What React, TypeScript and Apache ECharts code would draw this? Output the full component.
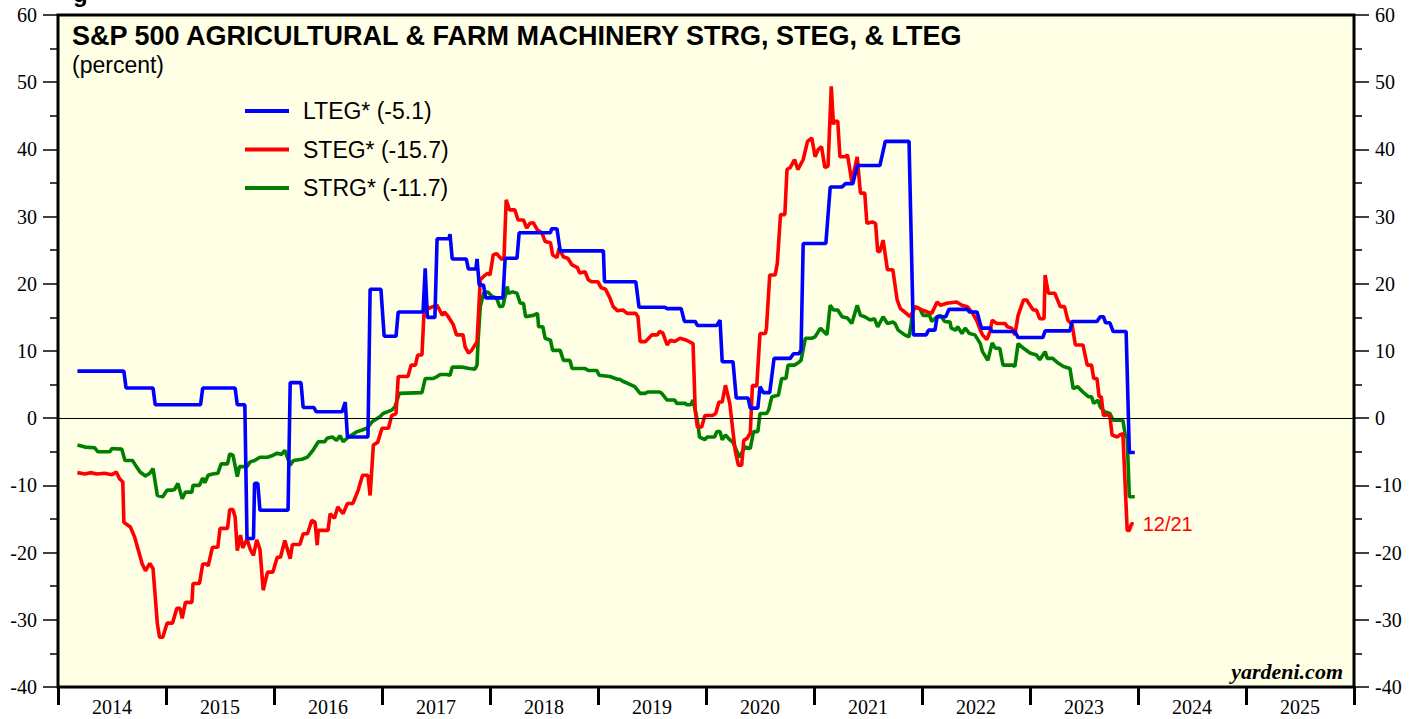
import React, { useEffect, useRef } from "react";
import * as echarts from "echarts";

const years = ["2014", "2015", "2016", "2017", "2018", "2019", "2020", "2021", "2022", "2023", "2024", "2025"];

// LTEG* (blue): [decimal year, percent]
const lteg: [number, number][] = [
  [2014.18, 7.0], [2014.61, 7.0], [2014.63, 4.5], [2014.88, 4.5], [2014.90, 2.0], [2015.32, 2.0], [2015.34, 4.5],
  [2015.64, 4.5], [2015.66, 2.0], [2015.73, 2.0], [2015.75, -17.9], [2015.81, -17.9], [2015.82, -9.7], [2015.85, -9.7],
  [2015.87, -13.7], [2016.13, -13.7], [2016.15, 5.3], [2016.25, 5.3], [2016.27, 1.6], [2016.37, 1.6], [2016.39, 0.95],
  [2016.63, 0.95], [2016.66, 2.4], [2016.68, -2.8], [2016.87, -2.8], [2016.89, 19.2], [2016.99, 19.2], [2017.02, 12.2],
  [2017.13, 12.2], [2017.15, 15.8], [2017.38, 15.8], [2017.40, 22.3], [2017.42, 15.0], [2017.49, 15.0], [2017.51, 26.7],
  [2017.62, 26.7], [2017.63, 27.4], [2017.65, 23.7], [2017.78, 23.7], [2017.80, 22.2], [2017.87, 22.2], [2017.88, 23.7],
  [2017.90, 19.8], [2017.94, 19.8], [2017.96, 17.9], [2018.12, 17.9], [2018.14, 23.8], [2018.25, 23.8], [2018.27, 27.6],
  [2018.56, 27.6], [2018.57, 28.2], [2018.62, 28.2], [2018.65, 24.9], [2019.05, 24.9], [2019.06, 20.3], [2019.35, 20.3],
  [2019.38, 16.5], [2019.62, 16.5], [2019.64, 16.3], [2019.77, 16.3], [2019.80, 14.4], [2019.90, 14.4], [2019.92, 13.8],
  [2020.10, 13.8], [2020.13, 14.6], [2020.15, 8.4], [2020.25, 8.4], [2020.28, 3.0], [2020.39, 3.0], [2020.41, 1.5],
  [2020.48, 1.5], [2020.50, 4.7], [2020.53, 3.8], [2020.59, 3.8], [2020.63, 8.9], [2020.78, 8.9], [2020.81, 9.6],
  [2020.86, 9.6], [2020.88, 10.1], [2020.90, 26.0], [2021.11, 26.0], [2021.15, 34.4], [2021.26, 34.4], [2021.29, 34.9],
  [2021.36, 34.9], [2021.40, 37.6], [2021.61, 37.6], [2021.66, 41.2], [2021.88, 41.2], [2021.92, 12.4], [2022.04, 12.4],
  [2022.06, 13.1], [2022.12, 13.1], [2022.14, 15.1], [2022.22, 15.1], [2022.25, 16.2], [2022.42, 16.2], [2022.44, 15.8],
  [2022.51, 15.8], [2022.55, 13.4], [2022.63, 13.4], [2022.65, 12.9], [2022.86, 12.9], [2022.89, 12.0], [2023.12, 12.0],
  [2023.14, 13.0], [2023.37, 13.0], [2023.39, 14.4], [2023.62, 14.4], [2023.65, 15.1], [2023.68, 15.1], [2023.70, 14.2],
  [2023.74, 14.2], [2023.77, 12.9], [2023.89, 12.9], [2023.92, -5.1], [2023.97, -5.1],
];

// STEG* (red)
const steg: [number, number][] = [
  [2014.18, -8.1], [2014.25, -8.3], [2014.30, -8.1], [2014.36, -8.3], [2014.43, -8.2], [2014.50, -8.4], [2014.54, -8.0],
  [2014.57, -9.0], [2014.60, -9.5], [2014.61, -15.5], [2014.67, -16.2], [2014.71, -17.7], [2014.78, -21.7], [2014.81, -22.7],
  [2014.85, -21.6], [2014.88, -22.4], [2014.92, -30.6], [2014.94, -32.6], [2014.97, -32.6], [2015.01, -30.5], [2015.06, -30.5],
  [2015.10, -28.3], [2015.13, -28.3], [2015.15, -29.8], [2015.18, -27.4], [2015.24, -27.4], [2015.25, -24.6], [2015.31, -24.6],
  [2015.34, -21.7], [2015.38, -21.7], [2015.39, -22.0], [2015.43, -19.2], [2015.48, -19.2], [2015.50, -16.4], [2015.57, -16.4],
  [2015.59, -13.6], [2015.62, -13.6], [2015.64, -14.7], [2015.66, -19.7], [2015.69, -17.4], [2015.71, -19.3], [2015.75, -18.0],
  [2015.78, -19.5], [2015.81, -20.4], [2015.84, -18.1], [2015.87, -19.5], [2015.90, -25.6], [2015.94, -22.9], [2015.99, -22.9],
  [2016.03, -20.7], [2016.06, -20.7], [2016.10, -18.2], [2016.15, -20.9], [2016.17, -18.8], [2016.24, -18.8], [2016.27, -17.2],
  [2016.31, -17.2], [2016.35, -15.2], [2016.38, -15.5], [2016.40, -18.9], [2016.41, -16.7], [2016.50, -16.7], [2016.52, -14.2],
  [2016.56, -14.9], [2016.59, -13.2], [2016.64, -14.2], [2016.68, -12.7], [2016.73, -12.7], [2016.78, -10.7], [2016.82, -8.5],
  [2016.87, -8.5], [2016.89, -11.5], [2016.92, -4.0], [2016.96, -3.6], [2017.00, -1.5], [2017.06, -1.5], [2017.09, 0.4],
  [2017.13, 0.7], [2017.15, 6.2], [2017.24, 6.2], [2017.27, 7.9], [2017.31, 7.9], [2017.33, 9.4], [2017.37, 9.4],
  [2017.39, 16.1], [2017.41, 16.8], [2017.43, 16.3], [2017.47, 16.6], [2017.51, 16.8], [2017.56, 15.3], [2017.58, 15.8],
  [2017.61, 15.2], [2017.66, 13.9], [2017.69, 12.4], [2017.75, 12.4], [2017.77, 10.6], [2017.80, 9.7], [2017.83, 10.1],
  [2017.88, 11.4], [2017.91, 20.6], [2017.94, 21.1], [2017.98, 21.6], [2018.00, 21.3], [2018.03, 24.3], [2018.06, 24.5],
  [2018.11, 23.6], [2018.13, 24.0], [2018.15, 32.5], [2018.18, 31.0], [2018.23, 31.0], [2018.26, 29.5], [2018.31, 29.5],
  [2018.34, 28.3], [2018.37, 29.0], [2018.40, 29.1], [2018.44, 28.0], [2018.48, 27.6], [2018.51, 26.3], [2018.56, 26.1],
  [2018.58, 24.3], [2018.62, 23.9], [2018.64, 25.3], [2018.68, 24.0], [2018.72, 23.8], [2018.76, 22.8], [2018.81, 22.4],
  [2018.83, 21.6], [2018.88, 21.8], [2018.91, 20.6], [2018.94, 20.3], [2019.00, 20.3], [2019.03, 19.4], [2019.07, 19.2],
  [2019.11, 17.9], [2019.14, 16.6], [2019.18, 16.0], [2019.23, 16.1], [2019.27, 15.6], [2019.35, 15.6], [2019.37, 15.1],
  [2019.39, 11.4], [2019.44, 11.4], [2019.50, 12.4], [2019.55, 12.4], [2019.57, 12.9], [2019.60, 12.7], [2019.64, 10.9],
  [2019.67, 11.6], [2019.71, 11.4], [2019.76, 11.9], [2019.82, 11.6], [2019.88, 11.1], [2019.90, 1.2], [2019.92, -1.3],
  [2019.96, -1.3], [2019.99, 0.4], [2020.06, 0.4], [2020.09, 0.7], [2020.12, 2.4], [2020.15, 2.4], [2020.18, 4.9],
  [2020.22, 2.2], [2020.27, -4.8], [2020.30, -7.0], [2020.33, -7.0], [2020.35, -3.3], [2020.38, -3.0], [2020.41, -2.2],
  [2020.43, 4.9], [2020.47, 4.8], [2020.50, 12.6], [2020.55, 12.6], [2020.56, 13.4], [2020.59, 21.3], [2020.64, 21.3],
  [2020.66, 23.0], [2020.69, 30.3], [2020.73, 30.3], [2020.75, 37.0], [2020.78, 37.3], [2020.82, 38.5], [2020.85, 37.0],
  [2020.90, 38.5], [2020.94, 41.2], [2020.98, 41.7], [2021.01, 38.9], [2021.04, 40.0], [2021.07, 40.4], [2021.10, 37.3],
  [2021.13, 37.5], [2021.16, 49.4], [2021.18, 43.7], [2021.19, 44.2], [2021.22, 44.2], [2021.24, 38.9], [2021.29, 38.9],
  [2021.31, 39.2], [2021.35, 35.2], [2021.40, 38.9], [2021.43, 33.5], [2021.47, 33.5], [2021.49, 29.0], [2021.54, 29.2],
  [2021.57, 29.0], [2021.59, 24.8], [2021.61, 24.8], [2021.64, 26.5], [2021.68, 22.1], [2021.73, 22.1], [2021.77, 17.6],
  [2021.80, 16.3], [2021.84, 15.8], [2021.89, 15.1], [2021.94, 16.6], [2022.00, 16.1], [2022.05, 15.8], [2022.09, 15.6],
  [2022.14, 17.3], [2022.17, 16.8], [2022.23, 17.1], [2022.32, 17.3], [2022.37, 16.8], [2022.42, 16.6], [2022.47, 15.6],
  [2022.51, 14.4], [2022.54, 13.1], [2022.56, 12.4], [2022.60, 11.7], [2022.63, 12.9], [2022.65, 14.6], [2022.69, 14.1],
  [2022.77, 14.1], [2022.79, 13.6], [2022.83, 13.4], [2022.86, 12.4], [2022.89, 15.3], [2022.94, 17.6], [2022.97, 17.6],
  [2022.98, 17.3], [2023.03, 16.1], [2023.06, 16.1], [2023.09, 14.8], [2023.13, 14.8], [2023.14, 21.3], [2023.17, 18.6],
  [2023.23, 18.6], [2023.28, 16.6], [2023.32, 16.6], [2023.35, 14.6], [2023.39, 13.9], [2023.42, 10.9], [2023.49, 10.9],
  [2023.53, 7.9], [2023.57, 7.9], [2023.59, 5.9], [2023.62, 5.9], [2023.64, 3.2], [2023.66, 3.2], [2023.68, 0.4],
  [2023.72, 0.5], [2023.74, 0.3], [2023.76, -2.5], [2023.81, -2.8], [2023.83, -2.5], [2023.86, -2.3], [2023.90, -16.7],
  [2023.92, -16.7], [2023.94, -15.7], [2023.96, -15.7],
];

// STRG* (green)
const strg: [number, number][] = [
  [2014.18, -4.0], [2014.25, -4.3], [2014.34, -4.4], [2014.37, -5.0], [2014.48, -5.0], [2014.50, -4.5], [2014.59, -4.6],
  [2014.62, -6.3], [2014.69, -6.3], [2014.71, -6.8], [2014.76, -8.0], [2014.81, -8.6], [2014.85, -8.2], [2014.88, -7.5],
  [2014.92, -11.5], [2014.97, -11.7], [2015.01, -10.7], [2015.06, -10.7], [2015.08, -10.6], [2015.11, -9.7], [2015.15, -12.0],
  [2015.18, -11.0], [2015.24, -11.0], [2015.25, -10.0], [2015.31, -10.0], [2015.34, -8.9], [2015.36, -9.6], [2015.39, -8.5],
  [2015.43, -8.3], [2015.48, -8.2], [2015.51, -6.8], [2015.57, -6.8], [2015.59, -5.3], [2015.62, -5.5], [2015.66, -8.7],
  [2015.68, -7.2], [2015.75, -7.2], [2015.78, -6.5], [2015.82, -6.3], [2015.87, -5.8], [2015.94, -5.8], [2015.98, -5.6],
  [2016.03, -5.2], [2016.07, -5.4], [2016.10, -4.8], [2016.15, -7.0], [2016.18, -6.3], [2016.26, -6.1], [2016.31, -5.8],
  [2016.36, -4.8], [2016.41, -3.5], [2016.47, -3.5], [2016.49, -3.0], [2016.54, -2.8], [2016.58, -3.3], [2016.61, -2.6],
  [2016.64, -3.5], [2016.69, -2.8], [2016.77, -2.0], [2016.81, -1.8], [2016.86, -1.5], [2016.91, -0.5], [2016.98, 0.2],
  [2017.01, 0.7], [2017.09, 1.2], [2017.12, 1.7], [2017.16, 3.7], [2017.37, 3.8], [2017.40, 5.9], [2017.47, 5.9],
  [2017.51, 6.2], [2017.54, 6.5], [2017.60, 6.5], [2017.63, 6.4], [2017.65, 7.6], [2017.74, 7.6], [2017.81, 7.4],
  [2017.86, 7.3], [2017.88, 7.9], [2017.89, 11.6], [2017.91, 16.6], [2017.94, 18.6], [2017.98, 18.8], [2018.02, 18.1],
  [2018.06, 17.9], [2018.09, 16.6], [2018.12, 16.7], [2018.16, 19.6], [2018.17, 18.6], [2018.21, 18.8], [2018.25, 18.6],
  [2018.28, 17.1], [2018.31, 17.1], [2018.33, 15.1], [2018.40, 15.3], [2018.44, 15.6], [2018.45, 13.6], [2018.49, 13.6],
  [2018.51, 11.9], [2018.56, 11.6], [2018.58, 10.1], [2018.65, 10.1], [2018.68, 8.6], [2018.74, 8.6], [2018.76, 7.4],
  [2018.83, 7.4], [2018.88, 7.4], [2018.91, 7.1], [2018.99, 7.1], [2019.01, 6.4], [2019.11, 6.2], [2019.18, 5.8],
  [2019.20, 5.8], [2019.23, 5.5], [2019.30, 5.0], [2019.34, 4.7], [2019.39, 3.7], [2019.44, 3.7], [2019.46, 3.9],
  [2019.57, 3.9], [2019.59, 3.7], [2019.64, 2.7], [2019.71, 2.7], [2019.73, 2.2], [2019.81, 2.2], [2019.82, 2.0],
  [2019.86, 2.0], [2019.88, 2.7], [2019.92, -0.3], [2019.94, -2.8], [2019.99, -3.2], [2020.01, -2.8], [2020.08, -2.8],
  [2020.10, -2.0], [2020.13, -2.0], [2020.15, -3.2], [2020.18, -2.5], [2020.22, -3.2], [2020.25, -3.6], [2020.31, -5.8],
  [2020.36, -4.3], [2020.41, -4.5], [2020.44, -2.0], [2020.48, -2.0], [2020.50, 0.7], [2020.56, 0.7], [2020.58, 1.2],
  [2020.61, 3.2], [2020.67, 3.4], [2020.70, 5.9], [2020.74, 5.9], [2020.76, 7.9], [2020.82, 7.9], [2020.85, 8.2],
  [2020.88, 8.6], [2020.92, 11.9], [2020.98, 11.9], [2021.01, 12.1], [2021.06, 13.4], [2021.12, 12.4], [2021.15, 16.8],
  [2021.18, 16.1], [2021.22, 16.1], [2021.26, 15.1], [2021.31, 14.9], [2021.35, 14.1], [2021.40, 16.8], [2021.43, 15.3],
  [2021.47, 15.1], [2021.52, 14.6], [2021.56, 14.8], [2021.59, 13.6], [2021.64, 15.1], [2021.68, 14.1], [2021.73, 14.3],
  [2021.75, 14.1], [2021.78, 13.1], [2021.84, 12.4], [2021.88, 12.1], [2021.90, 14.1], [2021.92, 16.6], [2021.98, 16.3],
  [2022.01, 15.3], [2022.07, 15.3], [2022.09, 14.4], [2022.14, 15.1], [2022.17, 15.3], [2022.21, 14.4], [2022.26, 14.3],
  [2022.27, 13.4], [2022.31, 13.1], [2022.33, 13.6], [2022.37, 12.6], [2022.40, 13.4], [2022.44, 12.6], [2022.49, 12.4],
  [2022.54, 11.1], [2022.56, 9.9], [2022.61, 8.6], [2022.65, 11.2], [2022.68, 10.4], [2022.72, 10.4], [2022.75, 7.9],
  [2022.84, 7.9], [2022.86, 7.7], [2022.89, 11.1], [2022.94, 10.4], [2023.00, 9.7], [2023.06, 9.4], [2023.09, 8.7],
  [2023.14, 9.9], [2023.16, 8.9], [2023.21, 8.9], [2023.26, 8.2], [2023.31, 7.7], [2023.37, 7.4], [2023.40, 4.4],
  [2023.44, 4.7], [2023.49, 3.9], [2023.54, 3.2], [2023.57, 3.2], [2023.59, 2.2], [2023.63, 2.7], [2023.65, 1.7],
  [2023.69, 0.95], [2023.74, 0.7], [2023.77, -0.3], [2023.86, -0.3], [2023.88, -2.3], [2023.90, -3.0], [2023.92, -11.7],
  [2023.97, -11.7],
];

const legendNames = ["LTEG* (-5.1)", "STEG* (-15.7)", "STRG* (-11.7)"];
const legendColors = ["#0000ff", "#ff0000", "#008000"];
const lastDateLabel = "12/21";

const SANS = '"Liberation Sans", Arial, Helvetica, sans-serif';
const SERIF = '"Liberation Serif", "Times New Roman", serif';

export default function App() {
  const ref = useRef<HTMLDivElement>(null);
  useEffect(() => {
    if (!ref.current) return;
    const chart = echarts.init(ref.current, undefined, { renderer: "svg" });
    const yAxisCommon = {
      type: "value" as const,
      min: -40,
      max: 60,
      interval: 10,
      axisLine: { show: false },
      splitLine: { show: false },
      axisTick: { show: true, length: 15, lineStyle: { color: "#000", width: 1.5 } },
      minorTick: { show: true, splitNumber: 2, length: 8, lineStyle: { color: "#000", width: 1.5 } },
      axisLabel: { color: "#000", fontFamily: SERIF, fontSize: 20, margin: 21 },
    };
    const graphic: any[] = [
      {
        type: "text", x: 73, y: 5,
        style: { text: "g", font: `bold 24px ${SANS}`, fill: "#000", align: "left", verticalAlign: "bottom" },
      },
      {
        type: "text", x: 72, y: 35.5,
        style: {
          text: "S&P 500 AGRICULTURAL & FARM MACHINERY STRG, STEG, & LTEG",
          font: `bold 27px ${SANS}`, fill: "#000", align: "left", verticalAlign: "middle",
        },
      },
      {
        type: "text", x: 72, y: 65,
        style: { text: "(percent)", font: `23px ${SANS}`, fill: "#000", align: "left", verticalAlign: "middle" },
      },
      {
        type: "text", x: 1343, y: 671,
        style: { text: "yardeni.com", font: `italic bold 22px ${SERIF}`, fill: "#000", align: "right", verticalAlign: "middle" },
      },
    ];
    legendNames.forEach((name, i) => {
      const y = 111 + i * 38.5;
      graphic.push({
        type: "line", shape: { x1: 245, y1: y, x2: 289, y2: y },
        style: { stroke: legendColors[i], lineWidth: 4 },
      });
      graphic.push({
        type: "text", x: 303, y,
        style: { text: name, font: `23px ${SANS}`, fill: "#000", align: "left", verticalAlign: "middle" },
      });
    });

    chart.setOption({
      animation: false,
      backgroundColor: "#ffffff",
      grid: {
        left: 58, right: 65, top: 15, bottom: 32,
        show: true, backgroundColor: "#ffffe5", borderColor: "#000", borderWidth: 3,
      },
      xAxis: [
        {
          type: "category",
          data: years,
          boundaryGap: true,
          position: "bottom",
          axisLine: { show: false, onZero: false },
          axisTick: { show: true, interval: 0, length: 18, lineStyle: { color: "#000", width: 3 } },
          axisLabel: { interval: 0, color: "#000", fontFamily: SERIF, fontSize: 20, margin: 10 },
          splitLine: { show: false },
        },
        { type: "value", min: 2014, max: 2026, show: false, axisLine: { onZero: false } },
      ],
      yAxis: [
        { ...yAxisCommon, position: "left" },
        { ...yAxisCommon, position: "right" },
      ],
      graphic,
      series: [
        {
          name: "STRG*",
          type: "line",
          xAxisIndex: 1,
          yAxisIndex: 0,
          data: strg,
          showSymbol: false,
          lineStyle: { color: "#008000", width: 3.6 },
          itemStyle: { color: "#008000" },
          z: 2,
          markLine: {
            silent: true,
            symbol: "none",
            label: { show: false },
            lineStyle: { color: "#000", width: 1.2, type: "solid" },
            data: [{ yAxis: 0 }],
          },
        },
        {
          name: "STEG*",
          type: "line",
          xAxisIndex: 1,
          yAxisIndex: 0,
          data: steg,
          showSymbol: false,
          lineStyle: { color: "#ff0000", width: 3.6 },
          itemStyle: { color: "#ff0000" },
          z: 3,
          endLabel: {
            show: true,
            formatter: () => lastDateLabel,
            color: "#ff0000",
            fontFamily: SANS,
            fontSize: 20,
            distance: 9,
          },
        },
        {
          name: "LTEG*",
          type: "line",
          xAxisIndex: 1,
          yAxisIndex: 0,
          data: lteg,
          showSymbol: false,
          lineStyle: { color: "#0000ff", width: 3.6 },
          itemStyle: { color: "#0000ff" },
          z: 4,
        },
      ],
    });
    return () => chart.dispose();
  }, []);
  return (
    <div
      ref={ref}
      style={{ position: "absolute", left: 0, top: 0, width: "1419px", height: "719px" }}
    />
  );
}
